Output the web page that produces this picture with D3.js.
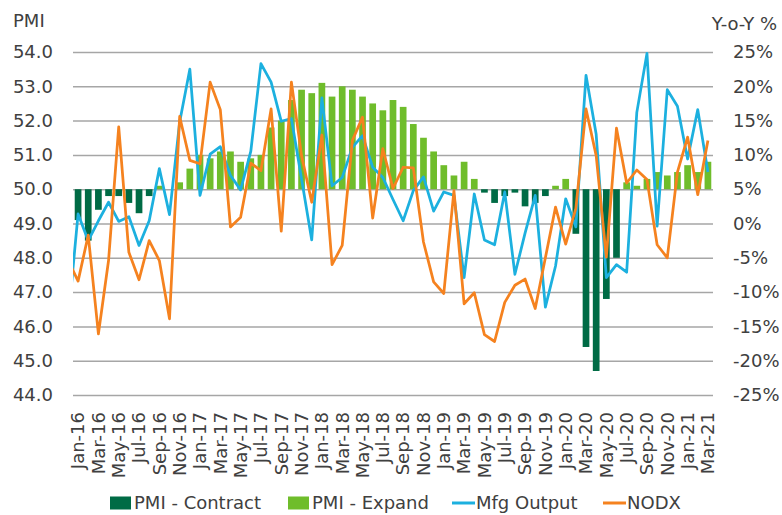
<!DOCTYPE html>
<html>
<head>
<meta charset="utf-8">
<script src="https://cdn.jsdelivr.net/npm/d3@7"></script>
<style>
  body { margin: 0; background: #fff; }
  svg { display: block; font-family: "DejaVu Sans", sans-serif; }
  .tick text { fill: #404040; }
</style>
</head>
<body>
<div id="chart"></div>
<script>
// ---------- DATA ---------- //
const months = [];
["16", "17", "18", "19", "20"].forEach(y => {
  ["Jan","Feb","Mar","Apr","May","Jun","Jul","Aug","Sep","Oct","Nov","Dec"].forEach(m => months.push(m + "-" + y));
});
months.push("Jan-21", "Feb-21", "Mar-21");

// PMI index (left axis), < 50 = contract, >= 50 = expand
const pmi = [
  49.1, 48.5, 49.4, 49.8, 49.8, 49.6, 49.3, 49.8, 50.1, 50.0, 50.2, 50.6,
  51.0, 50.9, 51.1, 51.1, 50.8, 50.9, 51.0, 51.8, 52.0, 52.6, 52.9, 52.8,
  53.1, 52.7, 53.0, 52.9, 52.7, 52.5, 52.3, 52.6, 52.4, 51.9, 51.5, 51.1,
  50.7, 50.4, 50.8, 50.3, 49.9, 49.6, 49.8, 49.9, 49.5, 49.6, 49.8, 50.1,
  50.3, 48.7, 45.4, 44.7, 46.8, 48.0, 50.2, 50.1, 50.3, 50.5, 50.4, 50.5,
  50.7, 50.5, 50.8
];

// Y-o-Y % (right axis)
const mfgOutput = [
  1.4, -2.5, 0.4, 3.1, 0.3, 1.0, -3.2, 0.4, 8.0, 1.3, 14.8, 22.5,
  4.1, 10.1, 11.2, 7.0, 4.9, 10.5, 23.3, 20.6, 14.9, 15.3, 6.5, -2.4,
  18.3, 5.5, 6.7, 11.1, 12.8, 8.2, 6.7, 3.5, 0.4, 4.8, 6.8, 1.8,
  4.6, 4.1, -7.9, 4.3, -2.4, -3.1, 4.6, -7.4, -1.4, 4.1, -12.2, -6.2,
  3.6, -0.5, 21.6, 13.0, -7.9, -6.0, -7.1, 16.2, 24.8, -0.4, 19.5, 17.1,
  9.4, 16.6, 7.5
];
const nodx = [
  -8.4, -1.7, -16.1, -5.4, 14.1, -4.2, -8.2, -2.5, -5.4, -13.9, 15.6, 9.2,
  8.7, 20.6, 16.6, -0.5, 0.9, 8.8, 7.7, 16.7, -1.1, 20.6, 9.9, 3.1,
  12.9, -6.0, -3.2, 12.1, 15.5, 0.8, 10.9, 5.1, 8.2, 8.1, -2.7, -8.5,
  -10.2, 4.8, -11.7, -10.1, -16.2, -17.2, -11.5, -9.0, -8.1, -12.4, -5.0, 2.4,
  -3.0, 2.2, 16.7, 9.9, -4.9, 13.9, 5.9, 7.8, 6.4, -3.1, -5.0, 7.5,
  12.6, 4.2, 12.1
];
// Dec-15 values, only the lead-in segment shows
const mfgPrev = -14.5;
const nodxPrev = -5.3;

const leftTicks = [44, 45, 46, 47, 48, 49, 50, 51, 52, 53, 54];
const rightTicks = [-25, -20, -15, -10, -5, 0, 5, 10, 15, 20, 25];

// ---------- CHART ---------- //
const W = 782, H = 515;
const x0 = 73, x1 = 713, yTop = 52, yBot = 395;
const colContract = "#006b45", colExpand = "#6fbd2b", colMfg = "#1cb0df", colNodx = "#f5821f";

const svg = d3.select("#chart").append("svg")
  .attr("width", W).attr("height", H);

const x = d3.scaleBand().domain(months).range([x0, x1])
  .paddingInner(0.34).paddingOuter(0.17);
const cx = d => x(d) + x.bandwidth() / 2;
const yL = d3.scaleLinear().domain([44, 54]).range([yBot, yTop]);
const yR = d3.scaleLinear().domain([-25, 25]).range([yBot, yTop]);

// gridlines
svg.append("g")
  .attr("transform", `translate(${x0},0)`)
  .call(d3.axisLeft(yL).tickValues(leftTicks).tickSize(-(x1 - x0)).tickFormat(""))
  .call(g => g.select(".domain").remove())
  .call(g => g.selectAll("line").attr("stroke", "#a6a6a6").attr("stroke-width", 1.5));

// left axis
svg.append("g")
  .attr("transform", `translate(${x0},0)`)
  .call(d3.axisLeft(yL).tickValues(leftTicks).tickSize(0).tickPadding(20).tickFormat(d3.format(".1f")))
  .call(g => g.select(".domain").remove())
  .call(g => g.selectAll("text").attr("font-size", 18).attr("font-family", "DejaVu Sans"));

// right axis
svg.append("g")
  .attr("transform", `translate(${x1},0)`)
  .call(d3.axisRight(yR).tickValues(rightTicks).tickSize(0).tickPadding(20).tickFormat(d => d + "%"))
  .call(g => g.select(".domain").remove())
  .call(g => g.selectAll("text").attr("font-size", 18).attr("font-family", "DejaVu Sans"));

// x axis
svg.append("g")
  .attr("transform", `translate(0,${yBot})`)
  .call(d3.axisBottom(x).tickValues(months.filter((d, i) => i % 2 === 0)).tickSize(0))
  .call(g => g.select(".domain").remove())
  .call(g => g.selectAll("text")
    .attr("font-size", 18).attr("font-family", "DejaVu Sans")
    .attr("transform", "rotate(-90)")
    .attr("text-anchor", "end")
    .attr("x", -17).attr("y", 0).attr("dy", "0.35em"));

// bars
svg.append("g").selectAll("rect")
  .data(months)
  .join("rect")
  .attr("x", d => x(d))
  .attr("width", x.bandwidth())
  .attr("y", (d, i) => yL(Math.max(pmi[i], 50)))
  .attr("height", (d, i) => Math.abs(yL(pmi[i]) - yL(50)))
  .attr("fill", (d, i) => pmi[i] < 50 ? colContract : colExpand);

// lines
svg.append("clipPath").attr("id", "plot")
  .append("rect").attr("x", x0).attr("y", 0).attr("width", x1 - x0).attr("height", H);

const step = x.step();
const line = d3.line()
  .x(d => d[0]).y(d => yR(d[1]));

function series(prev, vals) {
  return [[cx(months[0]) - step, prev]].concat(vals.map((v, i) => [cx(months[i]), v]));
}

const lines = svg.append("g").attr("clip-path", "url(#plot)");
lines.append("path").datum(series(mfgPrev, mfgOutput))
  .attr("d", line).attr("fill", "none")
  .attr("stroke", colMfg).attr("stroke-width", 2.75).attr("stroke-linejoin", "round");
lines.append("path").datum(series(nodxPrev, nodx))
  .attr("d", line).attr("fill", "none")
  .attr("stroke", colNodx).attr("stroke-width", 2.75).attr("stroke-linejoin", "round");

// axis titles
svg.append("text").attr("x", 13).attr("y", 27)
  .attr("font-size", 18).attr("fill", "#404040").text("PMI");
svg.append("text").attr("x", 777).attr("y", 30)
  .attr("text-anchor", "end")
  .attr("font-size", 18).attr("fill", "#404040").text("Y-o-Y %");

// legend
const legend = [
  {name: "PMI - Contract", color: colContract, type: "box", x: 110},
  {name: "PMI - Expand", color: colExpand, type: "box", x: 288},
  {name: "Mfg Output", color: colMfg, type: "line", x: 452},
  {name: "NODX", color: colNodx, type: "line", x: 603}
];
const lg = svg.append("g").selectAll("g")
  .data(legend)
  .join("g")
  .attr("transform", d => `translate(${d.x},503)`);
lg.filter(d => d.type === "box").append("rect")
  .attr("x", 0).attr("y", -6.5).attr("width", 21).attr("height", 13)
  .attr("fill", d => d.color);
lg.filter(d => d.type === "line").append("line")
  .attr("x1", 0).attr("x2", 23).attr("y1", 0).attr("y2", 0)
  .attr("stroke", d => d.color).attr("stroke-width", 3);
lg.append("text")
  .attr("x", 24)
  .attr("dy", "0.36em")
  .attr("font-size", 18).attr("fill", "#404040")
  .text(d => d.name);
</script>
</body>
</html>
